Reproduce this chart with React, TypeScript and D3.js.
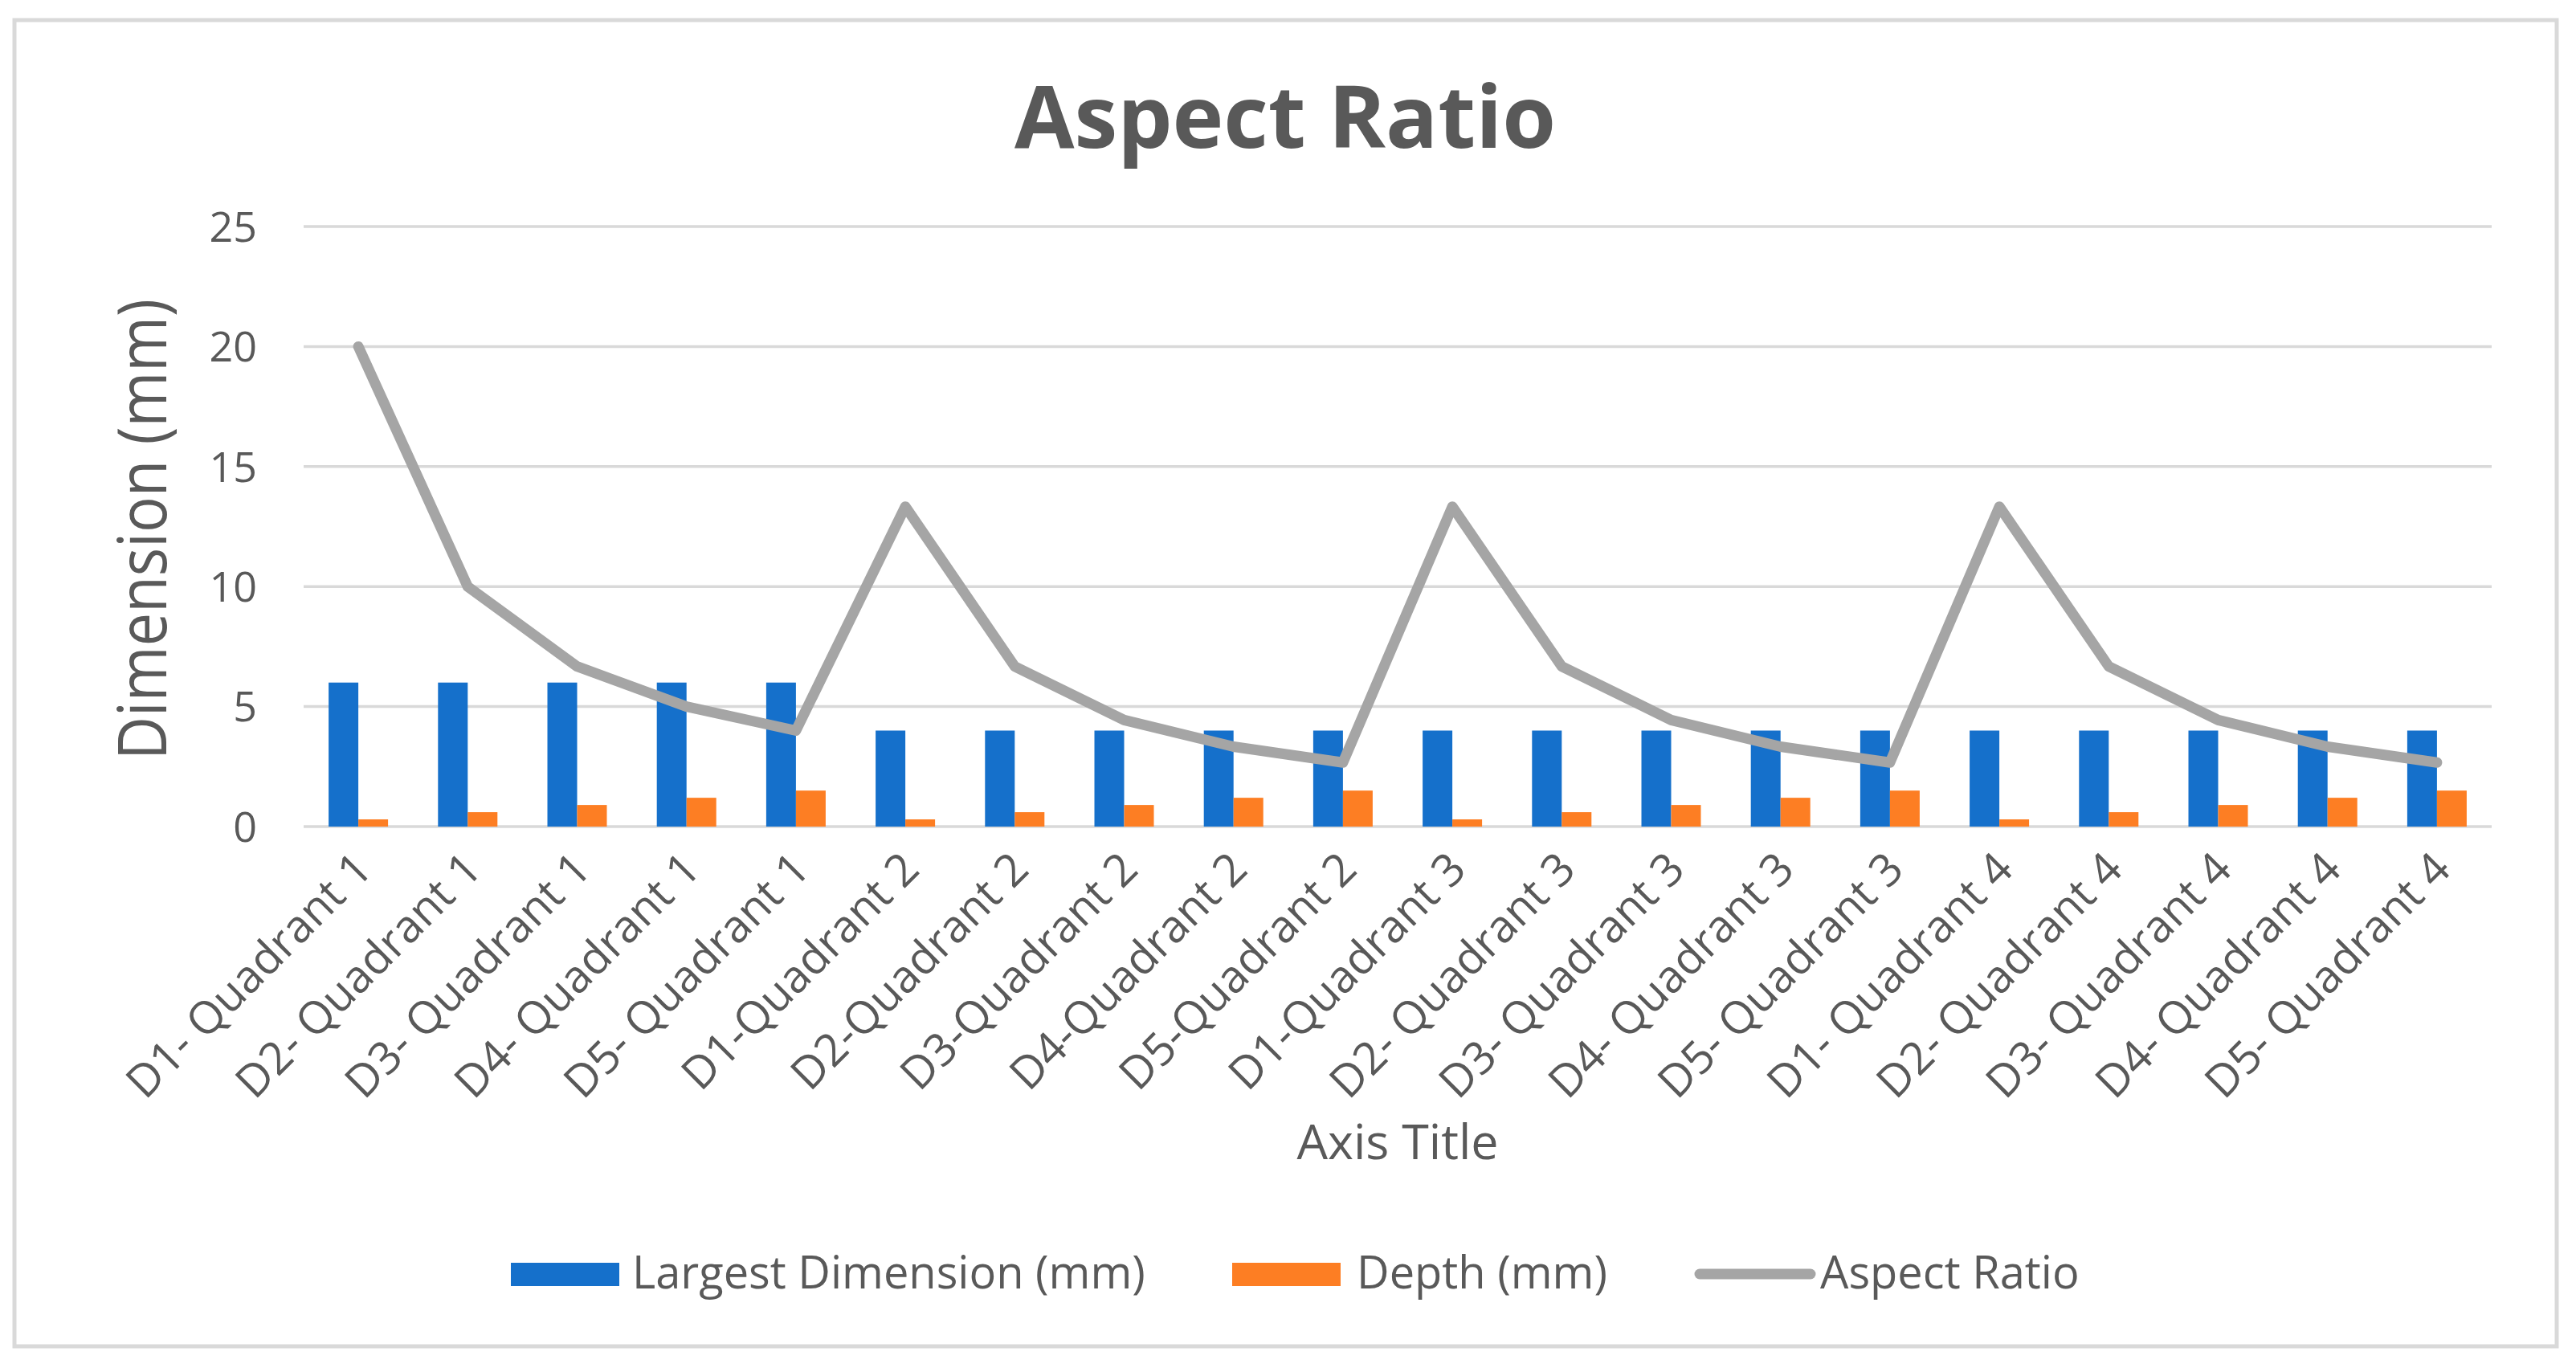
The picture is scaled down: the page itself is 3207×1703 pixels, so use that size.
import { useEffect, useRef } from "react";
import * as d3 from "d3";

const categories = [
  "D1- Quadrant 1", "D2- Quadrant 1", "D3- Quadrant 1", "D4- Quadrant 1", "D5- Quadrant 1",
  "D1-Quadrant 2", "D2-Quadrant 2", "D3-Quadrant 2", "D4-Quadrant 2", "D5-Quadrant 2",
  "D1-Quadrant 3", "D2- Quadrant 3", "D3- Quadrant 3", "D4- Quadrant 3", "D5- Quadrant 3",
  "D1- Quadrant 4", "D2- Quadrant 4", "D3- Quadrant 4", "D4- Quadrant 4", "D5- Quadrant 4",
];
const largest = [6, 6, 6, 6, 6, 4, 4, 4, 4, 4, 4, 4, 4, 4, 4, 4, 4, 4, 4, 4];
const depth = [0.3, 0.6, 0.9, 1.2, 1.5, 0.3, 0.6, 0.9, 1.2, 1.5, 0.3, 0.6, 0.9, 1.2, 1.5, 0.3, 0.6, 0.9, 1.2, 1.5];
const aspect = [20, 10, 6.67, 5, 4, 13.33, 6.67, 4.44, 3.33, 2.67, 13.33, 6.67, 4.44, 3.33, 2.67, 13.33, 6.67, 4.44, 3.33, 2.67];
const yTicks = [0, 5, 10, 15, 20, 25];
const seriesNames = ["Largest Dimension (mm)", "Depth (mm)", "Aspect Ratio"];

const W = 3207;
const H = 1703;
const FONT = "'Open Sans', 'Noto Sans', sans-serif";
const TEXT = "#595959";
const BLUE = "#1570CB";
const ORANGE = "#FD7E23";
const GRAY = "#A5A5A5";
const GRID = "#D9D9D9";

export default function App() {
  const ref = useRef<SVGSVGElement>(null);

  useEffect(() => {
    const svg = d3.select(ref.current);
    svg.selectAll("*").remove();

    const margin = { left: 378, right: W - 3102, top: 282, bottom: H - 1029 };

    svg
      .append("rect")
      .attr("x", 18)
      .attr("y", 25)
      .attr("width", 3165)
      .attr("height", 1651)
      .attr("fill", "#fff")
      .attr("stroke", GRID)
      .attr("stroke-width", 5);

    const x = d3
      .scaleBand()
      .domain(categories)
      .range([margin.left, W - margin.right])
      .padding(0);
    const bw = x.bandwidth();
    const barW = 37;
    const x1 = d3
      .scaleBand()
      .domain(["largest", "depth"])
      .range([bw / 2 - barW, bw / 2 + barW]);

    const y = d3
      .scaleLinear()
      .domain([0, 25])
      .range([H - margin.bottom, margin.top]);

    // gridlines
    svg
      .append("g")
      .selectAll("line")
      .data(yTicks)
      .join("line")
      .attr("x1", margin.left)
      .attr("x2", W - margin.right)
      .attr("y1", (d) => y(d))
      .attr("y2", (d) => y(d))
      .attr("stroke", GRID)
      .attr("stroke-width", 3.5);

    // y tick labels
    svg
      .append("g")
      .selectAll("text")
      .data(yTicks)
      .join("text")
      .attr("x", 320)
      .attr("y", (d) => y(d))
      .attr("dy", "0.36em")
      .attr("text-anchor", "end")
      .attr("font-family", FONT)
      .attr("font-size", 52)
      .attr("fill", TEXT)
      .text((d) => d);

    // bars
    const g = svg.append("g");
    g.selectAll(".blue")
      .data(largest)
      .join("rect")
      .attr("x", (_, i) => (x(categories[i]) ?? 0) + (x1("largest") ?? 0))
      .attr("y", (d) => y(d))
      .attr("width", x1.bandwidth())
      .attr("height", (d) => y(0) - y(d))
      .attr("fill", BLUE);
    g.selectAll(".orange")
      .data(depth)
      .join("rect")
      .attr("x", (_, i) => (x(categories[i]) ?? 0) + (x1("depth") ?? 0))
      .attr("y", (d) => y(d))
      .attr("width", x1.bandwidth())
      .attr("height", (d) => y(0) - y(d))
      .attr("fill", ORANGE);

    // aspect ratio line
    const line = d3
      .line<number>()
      .x((_, i) => (x(categories[i]) ?? 0) + bw / 2)
      .y((d) => y(d));
    svg
      .append("path")
      .attr("d", line(aspect))
      .attr("fill", "none")
      .attr("stroke", GRAY)
      .attr("stroke-width", 13)
      .attr("stroke-linejoin", "round")
      .attr("stroke-linecap", "round");

    // x labels
    svg
      .append("g")
      .selectAll("text")
      .data(categories)
      .join("text")
      .attr(
        "transform",
        (d) => `translate(${(x(d) ?? 0) + bw / 2 + 20},${y(0) + 56}) rotate(-45)`
      )
      .attr("text-anchor", "end")
      .attr("font-family", FONT)
      .attr("font-size", 56)
      .attr("fill", TEXT)
      .text((d) => d);

    // title
    svg
      .append("text")
      .attr("x", 1600)
      .attr("y", 184)
      .attr("text-anchor", "middle")
      .attr("font-family", FONT)
      .attr("font-weight", "bold")
      .attr("font-size", 108)
      .attr("fill", TEXT)
      .text("Aspect Ratio");

    // axis titles
    svg
      .append("text")
      .attr("transform", "translate(207,659) rotate(-90)")
      .attr("text-anchor", "middle")
      .attr("font-family", FONT)
      .attr("font-size", 84)
      .attr("textLength", 574)
      .attr("lengthAdjust", "spacingAndGlyphs")
      .attr("fill", TEXT)
      .text("Dimension (mm)");

    svg
      .append("text")
      .attr("x", 1740)
      .attr("y", 1443)
      .attr("text-anchor", "middle")
      .attr("font-family", FONT)
      .attr("font-size", 61)
      .attr("fill", TEXT)
      .text("Axis Title");

    // legend
    const lg = svg.append("g").attr("font-family", FONT).attr("font-size", 56).attr("fill", TEXT);
    lg.append("rect").attr("x", 636).attr("y", 1572).attr("width", 135).attr("height", 29).attr("fill", BLUE);
    lg.append("text").attr("x", 787).attr("y", 1604).text(seriesNames[0]);
    lg.append("rect").attr("x", 1534).attr("y", 1572).attr("width", 135).attr("height", 29).attr("fill", ORANGE);
    lg.append("text").attr("x", 1689).attr("y", 1604).text(seriesNames[1]);
    lg.append("line")
      .attr("x1", 2116)
      .attr("x2", 2254)
      .attr("y1", 1586)
      .attr("y2", 1586)
      .attr("stroke", GRAY)
      .attr("stroke-width", 13)
      .attr("stroke-linecap", "round");
    lg.append("text").attr("x", 2266).attr("y", 1604).text(seriesNames[2]);
  }, []);

  return (
    <svg
      ref={ref}
      width={W}
      height={H}
      style={{ position: "absolute", left: 0, top: 0, background: "#fff" }}
    />
  );
}
